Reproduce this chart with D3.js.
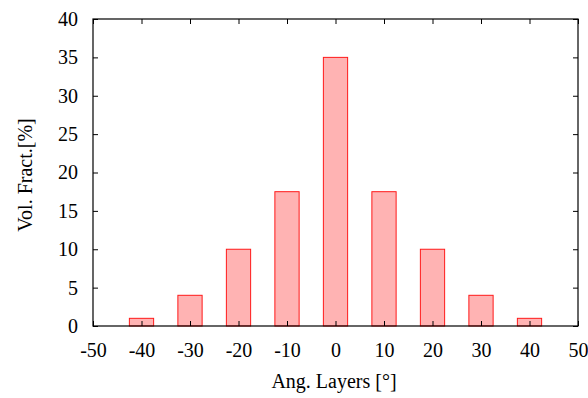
<!DOCTYPE html>
<html>
<head>
<meta charset="utf-8">
<script src="https://cdn.jsdelivr.net/npm/d3@7"></script>
<style>
body { margin: 0; background: #fff; }
svg text { font-family: "Liberation Serif", "Times New Roman", serif; }
</style>
</head>
<body>
<svg width="588" height="398"></svg>
<script>
const angles = [-40, -30, -20, -10, 0, 10, 20, 30, 40];
const fractions = [1, 4, 10, 17.5, 35, 17.5, 10, 4, 1];
const xTicks = [-50, -40, -30, -20, -10, 0, 10, 20, 30, 40, 50];
const yTicks = [0, 5, 10, 15, 20, 25, 30, 35, 40];

const svg = d3.select("svg");
const m = {top: 19, right: 10, bottom: 72, left: 93};
const gW = 588 - m.left - m.right, gH = 398 - m.top - m.bottom;
const g = svg.append("g").attr("transform", `translate(${m.left},${m.top})`);

const x = d3.scaleLinear().domain([-50, 50]).range([0, gW]);
const y = d3.scaleLinear().domain([0, 40]).range([gH, 0]);
const barW = x(5) - x(0);

g.selectAll("rect.bar")
    .data(angles.map((a, i) => ({a: a, v: fractions[i]})))
    .enter()
    .append("rect")
    .attr("class", "bar")
    .attr("x", d => x(d.a) - barW / 2)
    .attr("y", d => y(d.v))
    .attr("width", barW)
    .attr("height", d => gH - y(d.v))
    .attr("fill", "#ffb3b3")
    .attr("stroke", "#ff1a1a")
    .attr("stroke-width", 1);

const tk = 5;
const fmt = d => String(d);   // plain hyphen minus, like the original
const axStyle = sel => {
    sel.select(".domain").remove();
    sel.selectAll("line").attr("stroke", "#000");
    sel.selectAll("text").attr("fill", "#000").style("font-size", "20px");
};

g.append("g").attr("transform", `translate(0,${gH})`)
    .call(d3.axisBottom(x).tickValues(xTicks).tickFormat(fmt).tickSizeInner(-tk).tickSizeOuter(0).tickPadding(17))
    .call(axStyle);
g.append("g")
    .call(d3.axisTop(x).tickValues(xTicks).tickSizeInner(-tk).tickSizeOuter(0).tickFormat(""))
    .call(axStyle);
g.append("g")
    .call(d3.axisLeft(y).tickValues(yTicks).tickFormat(fmt).tickSizeInner(-tk).tickSizeOuter(0).tickPadding(15))
    .call(axStyle);
g.append("g").attr("transform", `translate(${gW},0)`)
    .call(d3.axisRight(y).tickValues(yTicks).tickSizeInner(-tk).tickSizeOuter(0).tickFormat(""))
    .call(axStyle);

g.append("rect")
    .attr("width", gW)
    .attr("height", gH)
    .attr("fill", "none")
    .attr("stroke", "#000")
    .attr("stroke-width", 1.2);

svg.append("text")
    .attr("x", 334)
    .attr("y", 388)
    .attr("text-anchor", "middle")
    .style("font-size", "20px")
    .text("Ang. Layers [°]");

svg.append("text")
    .attr("transform", `translate(32,175) rotate(-90)`)
    .attr("text-anchor", "middle")
    .style("font-size", "20px")
    .text("Vol. Fract.[%]");
</script>
</body>
</html>
